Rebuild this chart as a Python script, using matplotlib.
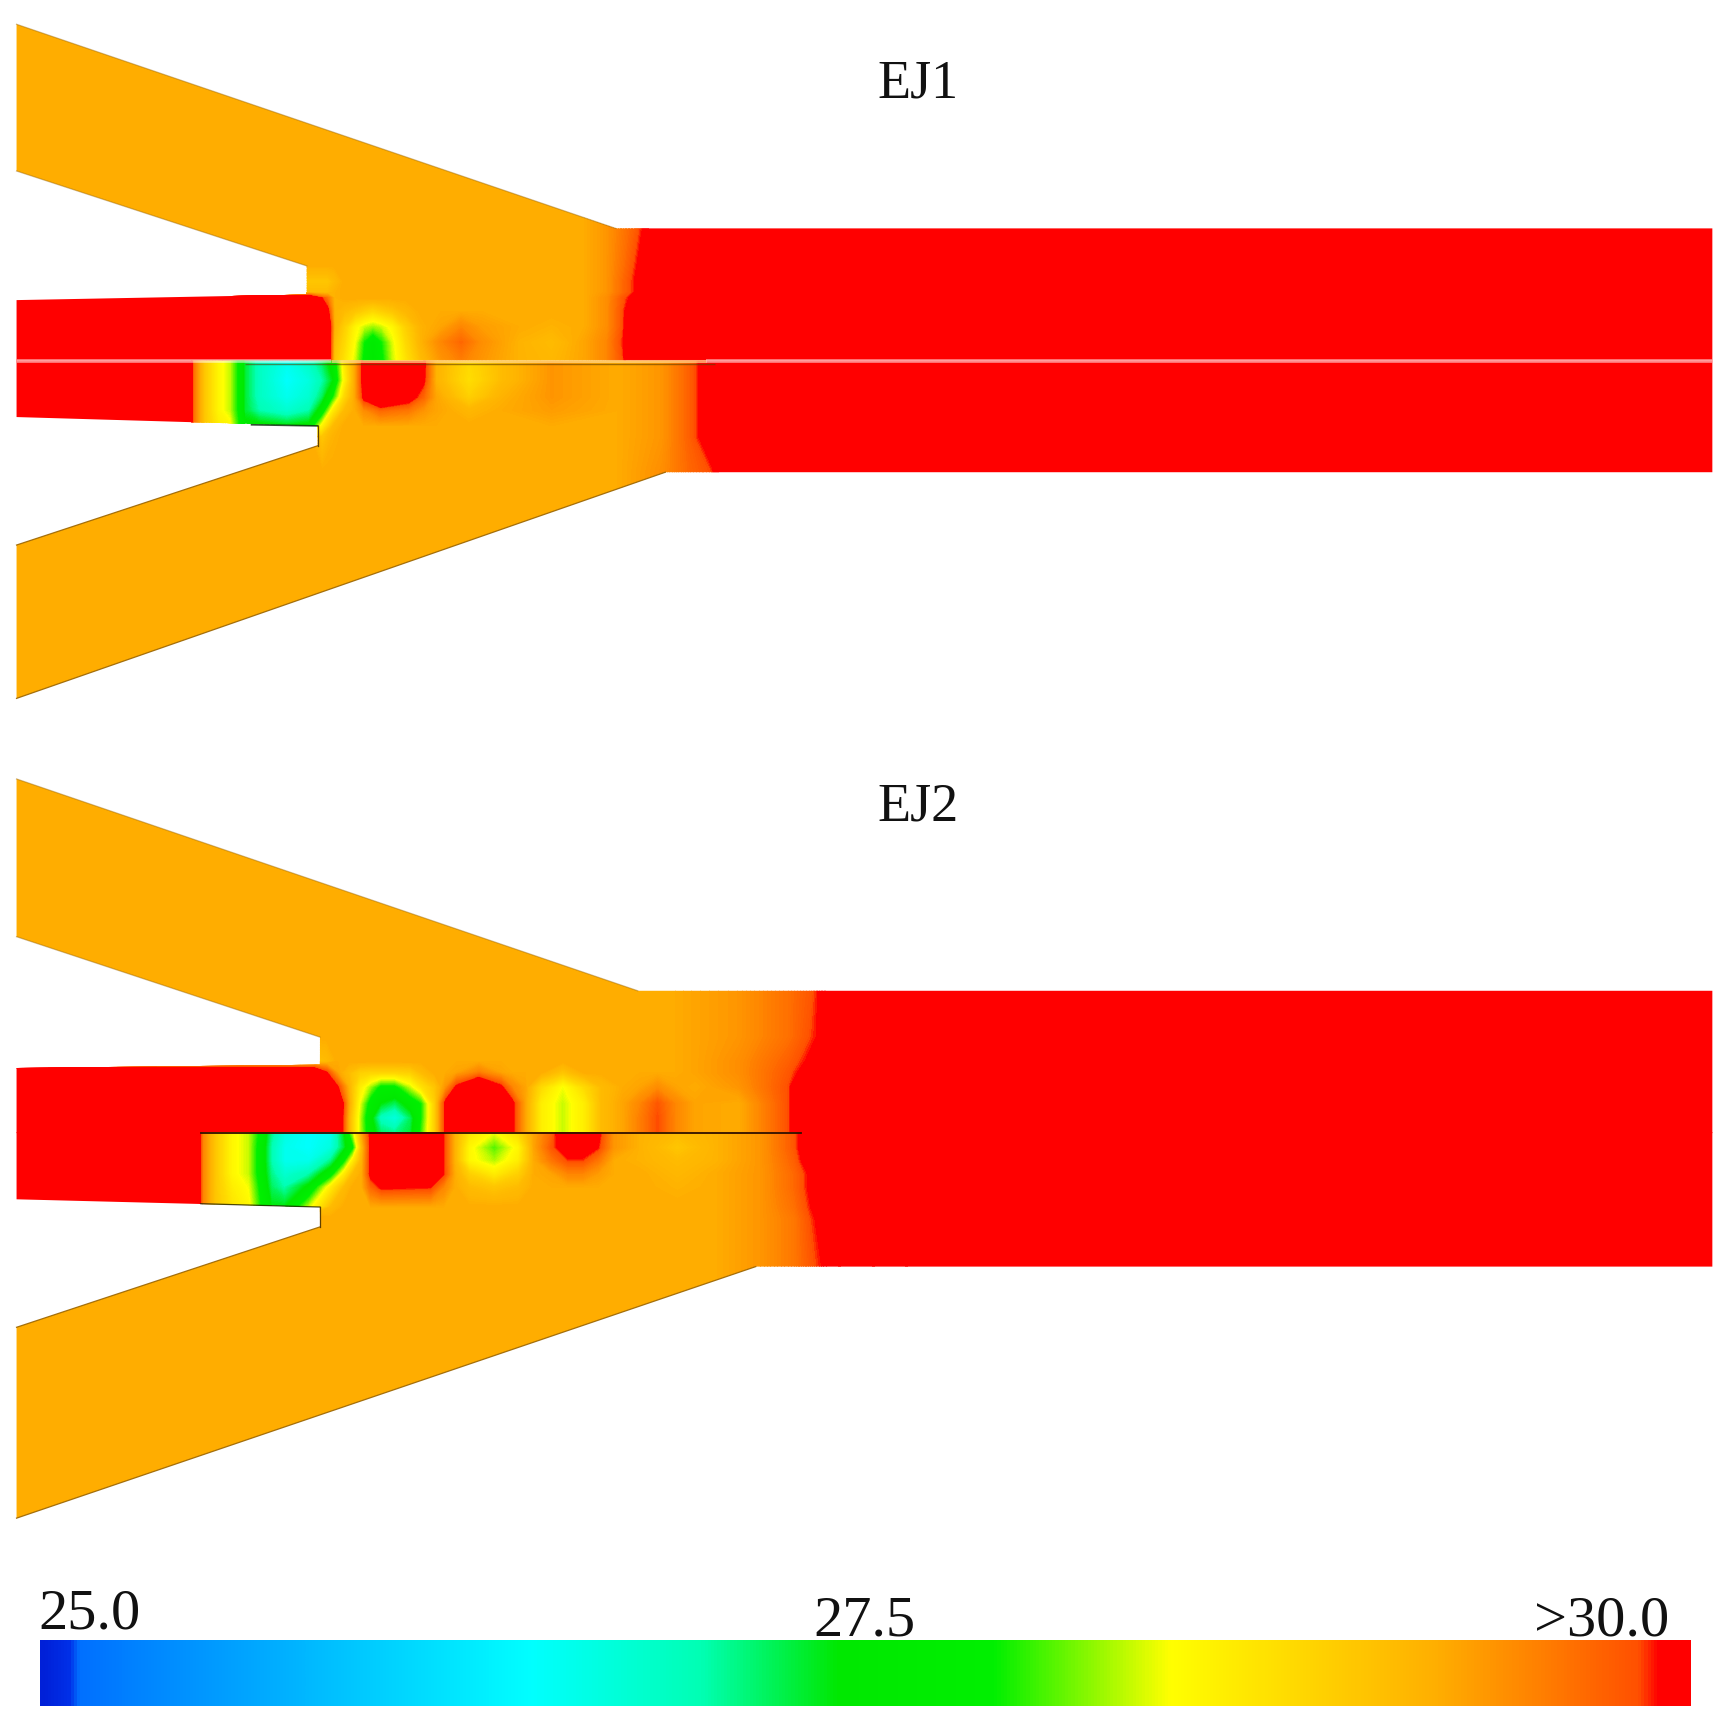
import numpy as np
import matplotlib
matplotlib.use('Agg')
import matplotlib.pyplot as plt
from matplotlib.colors import LinearSegmentedColormap
from matplotlib.patches import Polygon

O = 29.25   # plain orange of the arms
R = 30.5    # saturated red

# ---- EJ1, above the centre line
ej1_top_outline = [(15, 22), (558, 207), (1552, 207), (1552, 327), (15, 327),
                   (15, 272), (278, 267), (278, 241), (15, 155)]
ej1_top_x = [15, 280, 297, 303, 312, 322, 330, 338, 346, 356, 368, 382, 400, 418, 436, 470,
             500, 530, 550, 565, 575, 590, 1552]
ej1_top_y = [22, 207, 240, 255, 265, 270, 282, 296, 310, 327]
ej1_top_t = [
    [O]*18 + [29.4, 29.6, 29.75, 30.05, R],
    [O]*18 + [29.4, 29.6, 29.75, 30.05, R],
    [O]*18 + [29.4, 29.65, 29.85, 30.15, R],
    [O, 29.0, 29.0, 29.1] + [O]*14 + [29.4, 29.7, 29.9, R, R],
    [O, 29.1, 29.1, 29.2] + [O]*14 + [29.4, 29.7, 29.9, R, R],
    [R, R, 29.6, 29.2] + [O]*14 + [29.45, 29.8, 30.0, R, R],
    [R, R, 30.0, 29.2, 29.1, 29.0, 28.9, 28.8, 28.9, 29.0, 29.15] + [O]*7 + [29.45, 29.85, 30.2, R, R],
    [R, R, R, 29.2, 28.9, 28.5, 28.3, 28.2, 28.3, 28.5, 28.9, 29.2, 29.3, 29.5, 29.35, O, 29.2, O,
     29.45, 29.85, R, R, R],
    [R, R, R, 29.1, 28.8, 28.4, 27.9, 27.55, 27.9, 28.35, 28.8, 29.2, 29.5, 29.7, 29.45, 29.2, 29.1,
     29.3, 29.5, 29.9, R, R, R],
    [R, R, R, 29.0, 28.7, 28.3, 27.8, 27.5, 27.8, 28.3, 28.7, 29.1, 29.4, 29.55, 29.4, 29.2, 29.15,
     29.3, 29.5, 29.85, R, R, R],
]

# ---- EJ1, below the centre line
ej1_low_outline = [(15, 327), (1552, 327), (1552, 428), (603, 428), (15, 633), (15, 494),
                   (288, 404), (288, 386), (15, 378)]
ej1_low_x = [15, 170, 176, 185, 198, 208, 215, 222, 235, 260, 280, 292, 302, 312, 322, 330, 345,
             370, 384, 395, 425, 455, 500, 560, 600, 625, 645, 655, 1552]
ej1_low_y = [327, 345, 360, 372, 386, 396, 428, 633]
ej1_tail = [29.4, 29.75, 30.1, R, R]
ej1_low_t = [
    [R, R, 29.6, 29.0, 28.5, 28.3, 27.9, 27.3, 26.9, 26.6, 26.9, 27.2, 27.6, 28.6, 29.3, 30.1, R, R,
     30.0, 29.2, 28.8, 29.1, 29.4, O] + ej1_tail,
    [R, R, 29.6, 29.0, 28.5, 28.3, 27.9, 27.3, 26.9, 26.5, 26.7, 27.0, 27.4, 28.5, 29.3, 30.1, R, R,
     29.95, 29.2, 28.75, 29.1, 29.4, O] + ej1_tail,
    [R, R, 29.6, 29.0, 28.5, 28.3, 27.9, 27.3, 26.9, 26.6, 26.8, 27.2, 27.9, 28.8, 29.3, 30.0, R, 30.1,
     29.7, 29.3, 28.9, 29.2, 29.4, O] + ej1_tail,
    [R, R, 29.6, 29.0, 28.5, 28.3, 27.9, 27.3, 27.0, 26.8, 27.0, 27.6, 28.6, 29.1, O, 29.45, 29.7,
     29.6, 29.4, 29.3, 29.15, O, 29.35, O] + ej1_tail,
    [R, R, 29.6, 29.0, 28.6, 28.5, 28.0, 27.5, 27.5, 27.4, 27.5, 28.5, 29.1] + [O]*11 + ej1_tail,
    [O]*11 + [29.0, 29.2] + [O]*11 + ej1_tail,
    [O]*24 + [29.45, 29.7, 29.85, 30.1, R],
    [O]*24 + [29.45, 29.7, 29.85, 30.1, R],
]

# ---- EJ2, above the centre line
ej2_top_outline = [(15, 706), (578, 898), (1552, 898), (1552, 1027), (15, 1027), (15, 968),
                   (290, 965), (290, 940), (15, 849)]
ej2_top_x = [15, 285, 296, 306, 316, 326, 336, 345, 358, 372, 382, 394, 404, 414, 434, 454, 464,
             476, 490, 510, 530, 545, 565, 580, 596, 612, 630, 670, 715, 735, 755, 1552]
ej2_top_y = [706, 898, 940, 962, 972, 985, 1000, 1013, 1027]
ej2_top_t = [
    [O]*26 + [29.3, 29.4, 29.65, 29.8, 30.1, R],
    [O]*26 + [29.3, 29.4, 29.65, 29.8, 30.1, R],
    [O]*26 + [29.3, 29.4, 29.65, 29.85, 30.05, R],
    [O, 29.0, 29.1] + [O]*23 + [29.3, 29.45, 29.75, 29.95, R, R],
    [R, R, 29.9, 29.3, 29.1, 28.9, 28.85, 28.85, 28.85, 28.9, 29.1, O, 29.25, 29.3, 29.55, 29.3, O, O, O,
     29.0, O, O, O, O, O, O, 29.3, 29.45, 29.8, 30.05, R, R],
    [R, R, R, 29.9, 29.2, 28.6, 28.2, 27.8, 27.8, 28.3, 28.7, 29.0, 29.4, 29.95, R, 29.95, 29.5, 29.3, 28.8,
     28.4, 28.8, 29.1, O, 29.3, 29.45, 29.3, O, 29.4, 29.85, R, R, R],
    [R, R, R, R, 29.3, 28.4, 27.7, 27.4, 27.2, 27.6, 27.9, 28.9, 30.0, R, R, R, 30.0, 29.3, 28.6,
     28.3, 28.6, 29.1, 29.3, 29.5, 29.8, 29.5, 29.3, O, 29.85, R, R, R],
    [R, R, R, R, 29.2, 28.3, 27.5, 26.9, 26.7, 27.2, 27.9, 28.9, 30.0, R, R, R, 30.0, 29.3, 28.6,
     28.3, 28.6, 29.1, 29.3, 29.55, 29.85, 29.5, 29.3, O, 29.85, R, R, R],
    [R, R, R, R, 29.2, 28.3, 27.6, 27.2, 27.1, 27.3, 28.0, 28.9, 30.0, R, R, R, 30.0, 29.3, 28.6,
     28.3, 28.6, 29.1, 29.3, 29.55, 29.85, 29.5, 29.3, O, 29.85, R, R, R],
]

# ---- EJ2, below the centre line
ej2_low_outline = [(15, 1026), (1552, 1026), (1552, 1148), (685, 1148), (15, 1376), (15, 1203),
                   (290, 1112), (290, 1094), (15, 1087)]
ej2_low_x = [15, 178, 184, 195, 210, 225, 236, 246, 258, 280, 300, 312, 320, 328, 336, 346, 390,
             402, 412, 425, 448, 470, 484, 500, 515, 528, 542, 556, 580, 614, 650, 690, 720, 735,
             750, 1552]
ej2_low_y = [1026, 1040, 1052, 1064, 1076, 1094, 1104, 1148, 1376]
ej2_low_t = [
    [R, R, 29.5, 29.0, 28.5, 28.3, 27.8, 27.1, 26.7, 26.5, 26.6, 27.4, 28.3, 29.3, 30.0, R, R, 29.9,
     29.2, 28.7, 28.4, 28.8, 29.3, 29.7, R, R, 30.0, 29.4, 29.2, 29.1, 29.2, 29.4, 29.8, 30.2, R, R],
    [R, R, 29.5, 29.0, 28.5, 28.3, 27.7, 27.0, 26.6, 26.5, 26.7, 27.3, 27.8, 29.1, 30.0, R, R, 29.9,
     29.2, 28.5, 28.05, 28.5, 29.3, 29.8, 30.1, 30.1, 29.9, 29.4, 29.2, 29.0, 29.2, 29.4, 29.8, 30.2, R, R],
    [R, R, 29.5, 29.0, 28.5, 28.3, 27.7, 27.0, 26.6, 26.6, 27.1, 27.8, 28.6, 29.2, 30.0, R, R, 29.9,
     29.2, 28.5, 28.25, 28.6, 29.25, 29.6, 29.85, 29.85, 29.6, O, 29.2, 29.1, 29.2, 29.4, 29.75, 30.1, R, R],
    [R, R, 29.5, 29.0, 28.5, 28.3, 27.7, 27.1, 26.8, 27.0, 27.7, 28.6, 29.1, O, 30.0, R, R, 29.9,
     O, 28.9, 28.6, 28.9, O, 29.3, 29.5, 29.5, 29.35, O, O, 29.15, O, 29.4, 29.7, 29.95, 30.1, R],
    [R, R, 29.5, 29.0, 28.6, 28.4, 27.8, 27.2, 27.0, 27.5, 28.6, 29.1, O, O, 29.7, 29.95, 29.9, 29.5,
     O, 29.1, 29.0, 29.1, O, O, O, O, O, O, O, 29.2, O, 29.4, 29.7, 29.95, 30.1, R],
    [R, R, 29.5, 29.0, 28.7, 28.5, 27.9, 27.4, 27.4, 28.3, 29.1] + [O]*20 + [29.4, 29.65, 29.9, 30.1, R],
    [O]*31 + [29.4, 29.6, 29.85, 30.05, R],
    [O]*31 + [29.4, 29.6, 29.8, 29.95, R],
    [O]*31 + [29.4, 29.6, 29.8, 29.95, R],
]

panel_titles = ['EJ1', 'EJ2']
bar_labels = ['25.0', '27.5', '>30.0']
bar_values = [25.0, 30.0]

# colour bar stops, measured along the bar
cmap = LinearSegmentedColormap.from_list('bar', [
    (0.0, '#0020d8'), (0.016, '#0030e8'), (0.022, '#0070ff'), (0.297, '#00ffff'), (0.40, '#00ffb4'),
    (0.484, '#00e800'), (0.578, '#00f000'), (0.685, '#ffff00'), (0.845, '#ffb000'), (0.91, '#ff8000'),
    (0.97, '#ff5000'), (0.982, '#ff0000'), (1.0, '#ff0000')], N=512)
cmap.set_over('#ff0000')

fig = plt.figure(figsize=(17.3, 17.3), dpi=100)
ax = fig.add_axes([0, 0, 1, 1])
levels = np.linspace(bar_values[0], bar_values[1], 241)


def draw_half(xs, ys, temps, outline):
    patch = Polygon(outline, closed=True, facecolor='none', edgecolor='none')
    ax.add_patch(patch)
    cs = ax.contourf(xs, ys, np.array(temps), levels=levels, cmap=cmap, extend='max', antialiased=False)
    cs.set_clip_path(patch)


draw_half(ej1_top_x, ej1_top_y, ej1_top_t, ej1_top_outline)
draw_half(ej1_low_x, ej1_low_y, ej1_low_t, ej1_low_outline)
draw_half(ej2_top_x, ej2_top_y, ej2_top_t, ej2_top_outline)
draw_half(ej2_low_x, ej2_low_y, ej2_low_t, ej2_low_outline)

# thin dark edges on the slanted walls, fainter on the upper arms
edge_col = '#9a6400'
for outline, pairs, alpha in [(ej1_top_outline, [(0, 1), (7, 8)], 0.45), (ej1_low_outline, [(3, 4), (5, 6)], 0.9),
                              (ej2_top_outline, [(0, 1), (7, 8)], 0.45), (ej2_low_outline, [(3, 4), (5, 6)], 0.9)]:
    for a, b in pairs:
        ax.plot([outline[a][0], outline[b][0]], [outline[a][1], outline[b][1]], color=edge_col, lw=0.9, alpha=alpha)

# pale seam through EJ1, it almost disappears where the flow is orange
ax.plot([15, 300], [327, 327], color='white', lw=2.6, alpha=0.55, solid_capstyle='butt')
ax.plot([300, 640], [327, 327], color='#ffd890', lw=2.2, alpha=0.7, solid_capstyle='butt')
ax.plot([640, 1552], [327, 327], color='white', lw=2.6, alpha=0.55, solid_capstyle='butt')
ax.plot([222, 648], [329.5, 329.5], color='#604000', lw=1.0, alpha=0.6, solid_capstyle='butt')

# dark walls around the splitter
ax.plot([182, 726], [1026.5, 1026.5], color='#301000', lw=1.3)
ax.plot([182, 290], [1091, 1094], color='#202000', lw=0.9, alpha=0.8)
ax.plot([228, 288], [385, 386], color='#103010', lw=1.2, alpha=0.85)
ax.plot([288, 288], [386, 404], color='#604000', lw=0.9)
ax.plot([290, 290], [1094, 1112], color='#604000', lw=0.9)

# colour bar
bar = np.linspace(bar_values[0], bar_values[1], 512).reshape(1, -1)
ax.imshow(bar, extent=(36, 1532, 1546, 1487), cmap=cmap, vmin=bar_values[0], vmax=bar_values[1],
          aspect='auto', interpolation='bilinear')

serif = 'Liberation Serif'
ax.text(832, 88, panel_titles[0], ha='center', va='baseline', family=serif, fontsize=39, color='#111111')
ax.text(832, 744, panel_titles[1], ha='center', va='baseline', family=serif, fontsize=39, color='#111111')
ax.text(35, 1476, bar_labels[0], ha='left', va='baseline', family=serif, fontsize=42, color='#111111')
ax.text(737, 1482, bar_labels[1], ha='left', va='baseline', family=serif, fontsize=42, color='#111111')
ax.text(1513, 1482, bar_labels[2], ha='right', va='baseline', family=serif, fontsize=42, color='#111111')

ax.set_xlim(0, 1568)
ax.set_ylim(1568, 0)
ax.axis('off')
fig.savefig('out.png', dpi=100)
